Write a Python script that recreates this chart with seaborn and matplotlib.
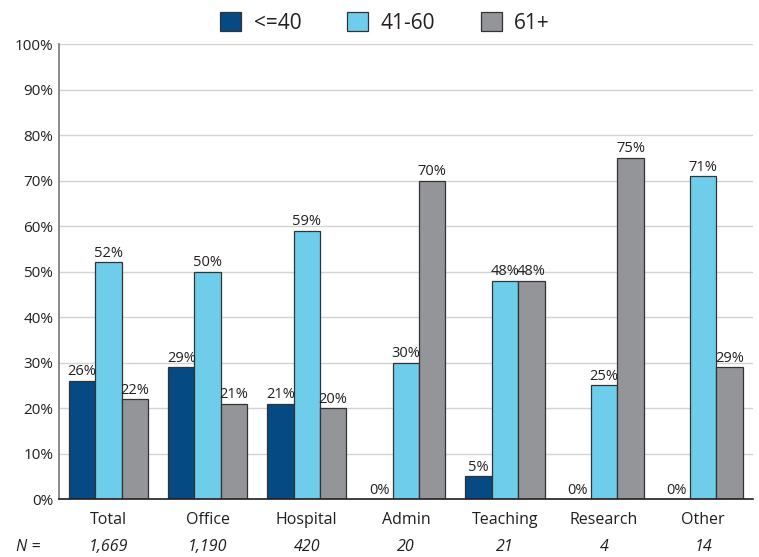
import matplotlib
matplotlib.use("Agg")
import matplotlib.pyplot as plt
import seaborn as sns
import pandas as pd

categories = ["Total", "Office", "Hospital", "Admin", "Teaching", "Research", "Other"]
n_labels = ["1,669", "1,190", "420", "20", "21", "4", "14"]
groups = ["<=40", "41-60", "61+"]
age_le40 = [26, 29, 21, 0, 5, 0, 0]
age_41_60 = [52, 50, 59, 30, 48, 25, 71]
age_61p = [22, 21, 20, 70, 48, 75, 29]
y_ticks = [0, 10, 20, 30, 40, 50, 60, 70, 80, 90, 100]

rows = []
for g, vals in zip(groups, [age_le40, age_41_60, age_61p]):
    for c, v in zip(categories, vals):
        rows.append({"Category": c, "Age": g, "Value": v})
df = pd.DataFrame(rows)

sns.set_theme(style="white")
plt.rcParams['font.family'] = ['Open Sans', 'DejaVu Sans']

fig = plt.figure(figsize=(7.59, 5.57), dpi=100)
ax = fig.add_axes([0.0777, 0.104, 0.914, 0.817])

palette = {"<=40": "#054a83", "41-60": "#6dcdeb", "61+": "#939598"}
sns.barplot(data=df, x="Category", y="Value", hue="Age", order=categories,
            hue_order=groups, palette=palette, width=0.8, ax=ax,
            edgecolor="#333333", linewidth=0.9, saturation=1, legend=True, errorbar=None)

for cont in ax.containers:
    ax.bar_label(cont, labels=[f"{int(v)}%" for v in cont.datavalues],
                 padding=1, fontsize=10.5, color="#231f20")

ax.set_ylim(0, 100)
ax.set_yticks(y_ticks)
ax.set_yticklabels([f"{t}%" for t in y_ticks], fontsize=11, color="#231f20")
ax.yaxis.grid(True, color="#d3d3d3", linewidth=1)
ax.set_axisbelow(True)
ax.set_xlim(-0.5, len(categories) - 0.5)
ax.set_xticks(range(len(categories)))
ax.set_xticklabels(categories, fontsize=11.5, color="#231f20")
ax.tick_params(axis="x", pad=9, length=0)
ax.tick_params(axis="y", pad=4, length=0)
ax.set_xlabel("")
ax.set_ylabel("")
for s in ["top", "right"]:
    ax.spines[s].set_visible(False)
ax.spines["left"].set_color("#777777")
ax.spines["left"].set_linewidth(1.2)
ax.spines["bottom"].set_color("#231f20")
ax.spines["bottom"].set_linewidth(1.2)

# N row
for i, n in enumerate(n_labels):
    ax.annotate(n, xy=(i, 0), xycoords=("data", "axes fraction"),
                xytext=(0, -34.5), textcoords="offset points", ha="center", va="center",
                fontsize=11.5, style="italic", color="#231f20")
fig.text(28 / 759, 1 - 547 / 557, "N =", ha="center", va="center",
         fontsize=11.5, style="italic", color="#231f20")

leg = ax.legend(loc="upper center", bbox_to_anchor=(385 / 759, 1.0), bbox_transform=fig.transFigure,
                ncol=3, frameon=False, fontsize=15, handlelength=1.0, handleheight=1.0,
                columnspacing=2.2, handletextpad=0.6, borderaxespad=0.2)
for t in leg.get_texts():
    t.set_color("#231f20")

fig.savefig("out.png", dpi=100)
